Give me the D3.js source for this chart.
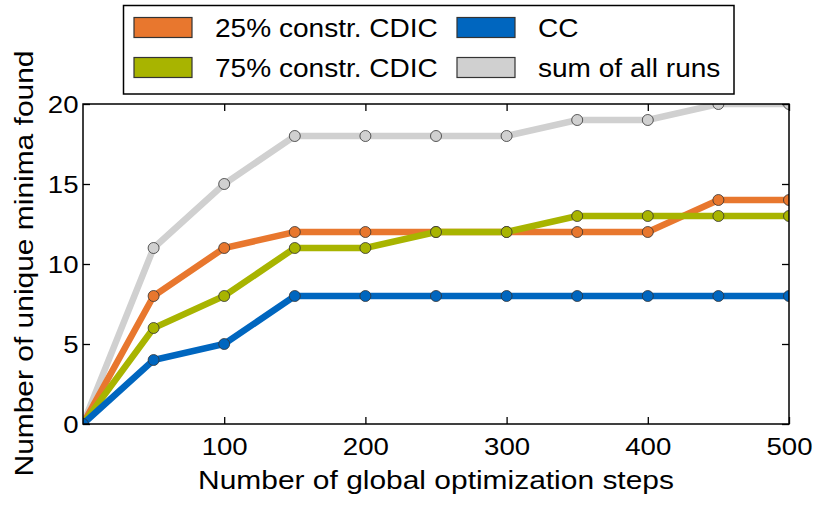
<!DOCTYPE html>
<html>
<head>
<meta charset="utf-8">
<script src="https://cdn.jsdelivr.net/npm/d3@7.9.0/dist/d3.min.js"></script>
<style>
  body { margin: 0; background: #fff; }
  svg { font-family: "Liberation Sans", Arial, sans-serif; }
</style>
</head>
<body>
<div id="chart"></div>
<script>
// Data
const steps = [0, 50, 100, 150, 200, 250, 300, 350, 400, 450, 500];
const sumAll = [0, 11, 15, 18, 18, 18, 18, 19, 19, 20, 20];
const constr25 = [0, 8, 11, 12, 12, 12, 12, 12, 12, 14, 14];
const constr75 = [0, 6, 8, 11, 11, 12, 12, 13, 13, 13, 13];
const cc = [0, 4, 5, 8, 8, 8, 8, 8, 8, 8, 8];
const xTicks = [100, 200, 300, 400, 500];
const yTicks = [0, 5, 10, 15, 20];

const series = [
  { name: 'sum of all runs', values: sumAll, color: '#d0d0d0' },
  { name: '25% constr. CDIC', values: constr25, color: '#e8772e' },
  { name: '75% constr. CDIC', values: constr75, color: '#a8b400' },
  { name: 'CC', values: cc, color: '#0066bf' },
];

const width = 830, height = 519;
const margin = { top: 104, right: 41, bottom: 95, left: 83 };
const innerW = width - margin.left - margin.right;
const innerH = height - margin.top - margin.bottom;

const svg = d3.select('#chart').append('svg')
  .attr('width', width).attr('height', height);

const x = d3.scaleLinear().domain([0, 500]).range([margin.left, margin.left + innerW]);
const y = d3.scaleLinear().domain([0, 20]).range([margin.top + innerH, margin.top]);

// the original font is a bit wider than Liberation Sans, stretch text horizontally
function wideText(parent, tx, ty, size, stretch, str, anchor = 'start', rot = 0) {
  return parent.append('text')
    .attr('transform', `translate(${tx},${ty}) rotate(${rot}) scale(${stretch},1)`)
    .attr('text-anchor', anchor)
    .attr('font-size', size)
    .attr('fill', '#000')
    .text(str);
}

svg.append('clipPath').attr('id', 'clip')
  .append('rect')
  .attr('x', margin.left).attr('y', margin.top)
  .attr('width', innerW).attr('height', innerH);

// series
const plot = svg.append('g').attr('clip-path', 'url(#clip)');
const line = d3.line().x((d, i) => x(steps[i])).y(d => y(d));

series.forEach(s => {
  plot.append('path')
    .attr('d', line(s.values))
    .attr('fill', 'none')
    .attr('stroke', s.color)
    .attr('stroke-width', 6.5);
  plot.selectAll(null)
    .data(s.values)
    .join('circle')
    .attr('cx', (d, i) => x(steps[i]))
    .attr('cy', d => y(d))
    .attr('r', 5.5)
    .attr('fill', s.color)
    .attr('stroke', '#333')
    .attr('stroke-width', 0.8);
});

// axes (ticks inward on all sides)
const tickSize = 7;
const tickLines = g => {
  g.select('.domain').remove();
  g.selectAll('line').attr('stroke', '#000').attr('stroke-width', 1.3);
};

const xAxisG = svg.append('g')
  .attr('transform', `translate(0,${margin.top + innerH})`)
  .call(d3.axisBottom(x).tickValues(xTicks).tickSizeInner(-tickSize).tickSizeOuter(0).tickFormat(''))
  .call(tickLines);
xAxisG.selectAll('.tick').each(function(d) {
  wideText(d3.select(this), 0, 30.5, 24, 1.15, d, 'middle');
});

svg.append('g')
  .attr('transform', `translate(0,${margin.top})`)
  .call(d3.axisTop(x).tickValues(xTicks).tickSizeInner(-tickSize).tickSizeOuter(0).tickFormat(''))
  .call(tickLines);

const yAxisG = svg.append('g')
  .attr('transform', `translate(${margin.left},0)`)
  .call(d3.axisLeft(y).tickValues(yTicks).tickSizeInner(-tickSize).tickSizeOuter(0).tickFormat(''))
  .call(tickLines);
yAxisG.selectAll('.tick').each(function(d) {
  wideText(d3.select(this), -4.5, 8.5, 24, 1.15, d, 'end');
});

svg.append('g')
  .attr('transform', `translate(${margin.left + innerW},0)`)
  .call(d3.axisRight(y).tickValues(yTicks).tickSizeInner(-tickSize).tickSizeOuter(0).tickFormat(''))
  .call(tickLines);

// frame
svg.append('rect')
  .attr('x', margin.left).attr('y', margin.top)
  .attr('width', innerW).attr('height', innerH)
  .attr('fill', 'none').attr('stroke', '#000').attr('stroke-width', 1.5);

// axis labels
wideText(svg, margin.left + innerW / 2, 489, 26.5, 1.13, 'Number of global optimization steps', 'middle');
wideText(svg, 33, 263.5, 26.5, 1.13, 'Number of unique minima found', 'middle', -90);

// legend
const legend = svg.append('g');
legend.append('rect')
  .attr('x', 123.5).attr('y', 5.5).attr('width', 610.5).attr('height', 88.5)
  .attr('fill', '#fff').attr('stroke', '#000').attr('stroke-width', 1.5);

const legendItems = [
  { s: series[1], col: 0, row: 0 },
  { s: series[3], col: 1, row: 0 },
  { s: series[2], col: 0, row: 1 },
  { s: series[0], col: 1, row: 1 },
];
const colX = [134, 457], rowY = [27.5, 67.5];
legendItems.forEach(({ s, col, row }) => {
  legend.append('rect')
    .attr('x', colX[col]).attr('y', rowY[row] - 10)
    .attr('width', 58).attr('height', 20)
    .attr('fill', s.color).attr('stroke', '#333').attr('stroke-width', 1.2);
  wideText(legend, colX[col] + 81, rowY[row] + 9.5, 25.5, 1.1, s.name);
});
</script>
</body>
</html>
